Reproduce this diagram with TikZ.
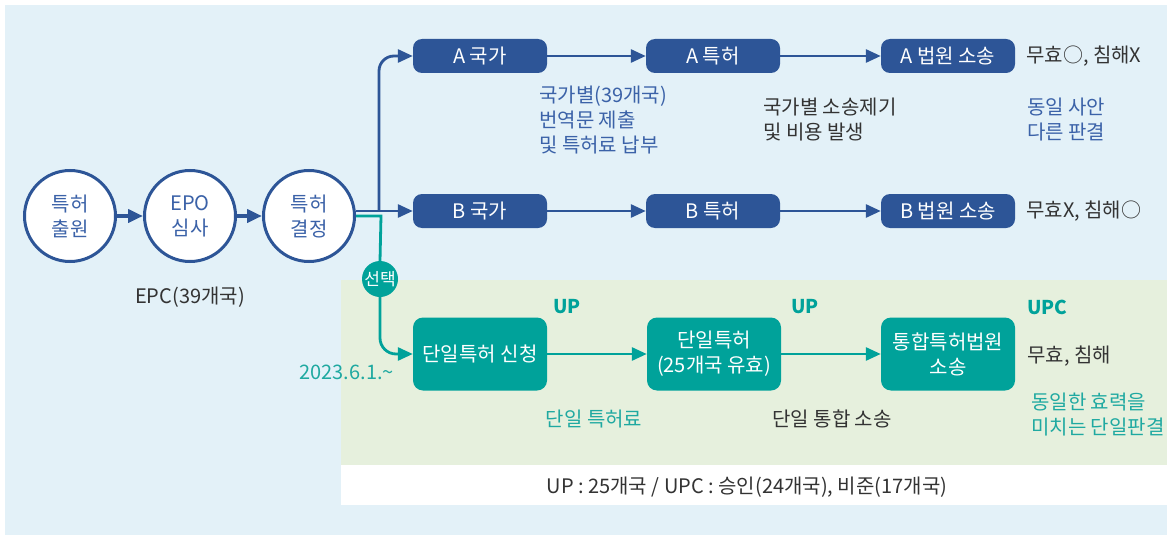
\documentclass[tikz,border=0pt]{standalone}
\usepackage{fontspec}
\setmainfont{Noto Sans CJK KR}
\usetikzlibrary{arrows.meta,positioning}
\definecolor{pblue}{HTML}{2D5597}
\definecolor{ptext}{HTML}{3B62A8}
\definecolor{pteal}{HTML}{00A29A}
\definecolor{ttext}{HTML}{1FA9A1}
\definecolor{pgray}{HTML}{333333}
\definecolor{bgblue}{HTML}{E3F1F8}
\definecolor{bggreen}{HTML}{E6F0DD}
\tikzset{
  circ/.style={circle, draw=pblue, line width=3pt, fill=white, minimum size=91pt,
    inner sep=0pt, text=ptext, align=center},
  bbox/.style={rounded corners=9pt, fill=pblue, minimum width=134pt, minimum height=34pt,
    inner sep=0pt, text=white},
  tbox/.style={rounded corners=10pt, fill=pteal, minimum width=134pt, minimum height=73pt,
    inner sep=0pt, text=white, align=center},
  note/.style={inner sep=0pt, align=left},
  uplabel/.style={text=pteal, inner sep=0pt, font=\fontsize{19}{25}\selectfont\bfseries},
  blueline/.style={draw=pblue, line width=2.8pt, -{Triangle[length=15pt,width=13pt]}},
  tealline/.style={draw=pteal, line width=2.8pt, -{Triangle[length=15pt,width=13pt]}},
}
\begin{document}
\begin{tikzpicture}[x=1pt,y=-1pt,font=\fontsize{20}{25}\selectfont]
                \useasboundingbox (0,0) rectangle (1167,535);
                % backgrounds
                \fill[bgblue] (5,5) rectangle (1167,535);
                \fill[bggreen] (341,280) rectangle (1167,465);
                \fill[white] (341,465) rectangle (1167,505);
                \node[text=pgray] (legend) at (747,487) {UP : 25개국 / UPC : 승인(24개국), 비준(17개국)};
                % EPO
                \node[circ] (c1) at (70,216) {특허\\출원};
                \node[circ] (c2) at (190,216) {EPO\\심사};
                \node[circ] (c3) at (309,216) {특허\\결정};
                \node[text=pgray] (epc) at (190,297) {EPC(39개국)};
                \draw[blueline, line width=4pt] (c1) -- (c2);
                \draw[blueline, line width=4pt] (c2) -- (c3);
                % national route
                \node[bbox] (ac) at (480,56) {A 국가};
                \node[bbox] (ap) at (713,56) {A 특허};
                \node[bbox] (al) at (948,56) {A 법원 소송};
                \node[bbox] (bc) at (480,211) {B 국가};
                \node[bbox] (bp) at (713,211) {B 특허};
                \node[bbox] (bl) at (948,211) {B 법원 소송};
                \node[note, text=pgray, anchor=west] (ares) at (1026,56) {무효○, 침해X};
                \node[note, text=pgray, anchor=west] (bres) at (1026,211) {무효X, 침해○};
                \node[note, text=ptext, anchor=north west] (trans) at (539,86) {국가별(39개국)\\번역문 제출\\및 특허료 납부};
                \node[note, text=pgray, anchor=north west] (cost) at (763,98) {국가별 소송제기\\및 비용 발생};
                \node[note, text=ptext, anchor=north west] (diff) at (1027,98) {동일 사안\\다른 판결};
                % unitary route
                \node[tbox] (apply) at (480,354) {단일특허 신청};
                \node[tbox] (up) at (714,354) {단일특허\\(25개국 유효)};
                \node[tbox] (upc) at (948,354) {통합특허법원\\소송};
                \node[circle, fill=pteal, text=white, minimum size=36pt, inner sep=0pt,
                  font=\fontsize{17}{18}\selectfont] (sel) at (380,279) {선택};
                \node[uplabel] (up1) at (567,307) {UP};
                \node[uplabel] (up2) at (805,307) {UP};
                \node[uplabel, anchor=west] (up3) at (1027,307) {UPC};
                \node[note, text=pgray, anchor=west] (ures) at (1027,356) {무효, 침해};
                \node[note, text=ttext, anchor=east] (date) at (394,372) {2023.6.1.\textasciitilde};
                \node[note, text=ttext] (fee) at (594,419) {단일 특허료};
                \node[note, text=pgray] (suit) at (832,419) {단일 통합 소송};
                \node[note, text=ttext, anchor=north west] (same) at (1031,393) {동일한 효력을\\미치는 단일판결};
                % connectors
                \coordinate (fork) at (379,211);
                \coordinate (tfork) at (381,216);
                \draw[draw=pteal, line width=2.8pt] (c3.east) -- (tfork) -- (sel.north);
                \draw[blueline] (c3.east |- fork) -- (bc.west);
                \draw[blueline, rounded corners=15pt] (fork) |- (ac.west);
                \draw[blueline] (ac) -- (ap);
                \draw[blueline] (ap) -- (al);
                \draw[blueline] (bc) -- (bp);
                \draw[blueline] (bp) -- (bl);
                \draw[tealline, rounded corners=16pt] (sel.south) |- (apply.west);
                \draw[tealline] (apply) -- (up);
                \draw[tealline] (up) -- (upc);
            \end{tikzpicture}
\end{document}
